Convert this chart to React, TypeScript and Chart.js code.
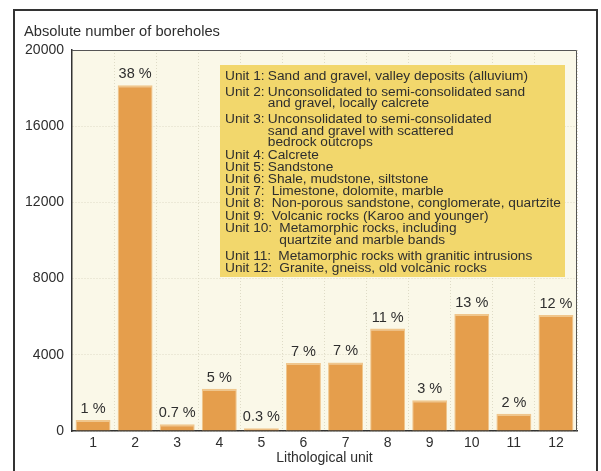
import React, { useEffect, useRef } from "react";
import { Chart, registerables } from "chart.js";

Chart.register(...registerables);

const categories = ["1", "2", "3", "4", "5", "6", "7", "8", "9", "10", "11", "12"];
const boreholes = [580, 18150, 350, 2220, 140, 3570, 3600, 5380, 1610, 6140, 910, 6090];
const percentLabels = ["1 %", "38 %", "0.7 %", "5 %", "0.3 %", "7 %", "7 %", "11 %", "3 %", "13 %", "2 %", "12 %"];
const yTicks = [0, 4000, 8000, 12000, 16000, 20000];
const unitLabels = ["Unit 1:", "Unit 2:", "Unit 3:", "Unit 4:", "Unit 5:", "Unit 6:", "Unit 7:", "Unit 8:", "Unit 9:", "Unit 10:", "Unit 11:", "Unit 12:"];
const unitDescriptions = [
  ["Sand and gravel, valley deposits (alluvium)"],
  ["Unconsolidated to semi-consolidated sand", "and gravel, locally calcrete"],
  ["Unconsolidated to semi-consolidated", "sand and gravel with scattered", "bedrock outcrops"],
  ["Calcrete"],
  ["Sandstone"],
  ["Shale, mudstone, siltstone"],
  ["Limestone, dolomite, marble"],
  ["Non-porous sandstone, conglomerate, quartzite"],
  ["Volcanic rocks (Karoo and younger)"],
  ["Metamorphic rocks, including", "quartzite and marble bands"],
  ["Metamorphic rocks with granitic intrusions"],
  ["Granite, gneiss, old volcanic rocks"],
];

const FONT = "'Liberation Sans', Arial, sans-serif";
const TEXT = "#2e2e2e";

const decorPlugin = {
  id: "decor",
  beforeDraw(chart: any) {
    const { ctx, chartArea: a } = chart;
    ctx.save();
    ctx.fillStyle = "#faf8e8";
    ctx.fillRect(a.left, a.top, a.right - a.left, a.bottom - a.top);
    ctx.restore();
  },
  afterDatasetsDraw(chart: any) {
    const { ctx, chartArea: a } = chart;
    ctx.save();
    // data labels
    ctx.font = `14.5px ${FONT}`;
    ctx.fillStyle = TEXT;
    ctx.textAlign = "center";
    ctx.textBaseline = "alphabetic";
    chart.getDatasetMeta(0).data.forEach((bar: any, i: number) => {
      ctx.fillText(percentLabels[i], bar.x, bar.y - 7);
    });
    // plot top/right border
    ctx.strokeStyle = "#555";
    ctx.lineWidth = 1;
    ctx.beginPath();
    ctx.moveTo(a.left, a.top + 0.5);
    ctx.lineTo(a.right - 0.5, a.top + 0.5);
    ctx.lineTo(a.right - 0.5, a.bottom);
    ctx.stroke();
    // legend box
    const bx = 220, by = 65, bw = 345, bh = 212;
    ctx.fillStyle = "#f2d76c";
    ctx.fillRect(bx, by, bw, bh);
    ctx.fillStyle = TEXT;
    ctx.textAlign = "left";
    ctx.font = `13.7px ${FONT}`;
    const extra = [0, 3.3, 3.3, 0, 0, 0, 0, 0, 0, 0, 3.8, 0];
    const spaces = [1, 1, 1, 1, 1, 1, 2, 2, 2, 2, 2, 2];
    let y = 80;
    unitLabels.forEach((lab, i) => {
      y += extra[i];
      ctx.fillText(lab, 225, y);
      const dx = 225 + ctx.measureText(lab + " ".repeat(spaces[i])).width - 0.5;
      unitDescriptions[i].forEach((line, j) => {
        if (j > 0) y += 11.8;
        ctx.fillText(line, dx, y);
      });
      y += 12.2;
    });
    // y title
    ctx.font = `14.7px ${FONT}`;
    ctx.fillText("Absolute number of boreholes", 24, 36);
    // outer frame
    ctx.strokeStyle = "#333";
    ctx.lineWidth = 2;
    ctx.strokeRect(14, 10, 583, 520);
    ctx.restore();
  },
};

export default function App() {
  const ref = useRef<HTMLCanvasElement>(null);
  useEffect(() => {
    document.body.style.margin = "0";
    const chart = new Chart(ref.current!, {
      type: "bar",
      data: {
        labels: categories,
        datasets: [
          {
            data: boreholes,
            backgroundColor: "#e59e4c",
            borderColor: "#f0c68c",
            borderWidth: { top: 2, left: 1, right: 1, bottom: 0 },
            borderSkipped: "bottom",
            barPercentage: 0.83,
            categoryPercentage: 1,
          },
        ],
      },
      options: {
        animation: false,
        responsive: false,
        devicePixelRatio: 1,
        layout: { padding: { left: 0, top: 50, right: 24, bottom: 0 } },
        plugins: { legend: { display: false }, tooltip: { enabled: false } },
        scales: {
          x: {
            afterFit: (s: any) => { s.height = 40; },
            grid: { offset: true, color: "#dedbc6", drawTicks: false } as any,
            border: { color: "#333", width: 1.5, dash: [1, 2] } as any,
            ticks: { font: { family: FONT, size: 14 }, color: TEXT, padding: 4 },
            title: { display: true, text: "Lithological unit", font: { family: FONT, size: 14 }, color: TEXT },
          },
          y: {
            min: 0,
            max: 20000,
            afterFit: (s: any) => { s.width = 72; },
            afterBuildTicks: (s: any) => { s.ticks = yTicks.map((v) => ({ value: v })); },
            grid: { color: "#dedbc6", drawTicks: false } as any,
            border: { color: "#333", width: 1.5, dash: [1, 2] } as any,
            ticks: {
              font: { family: FONT, size: 14 },
              color: TEXT,
              padding: 8,
              callback: (v: any) => String(v),
            },
          },
        },
      },
      plugins: [decorPlugin],
    });
    return () => chart.destroy();
  }, []);
  return (
    <div style={{ width: 601, height: 471 }}>
      <canvas ref={ref} width={601} height={471} />
    </div>
  );
}
